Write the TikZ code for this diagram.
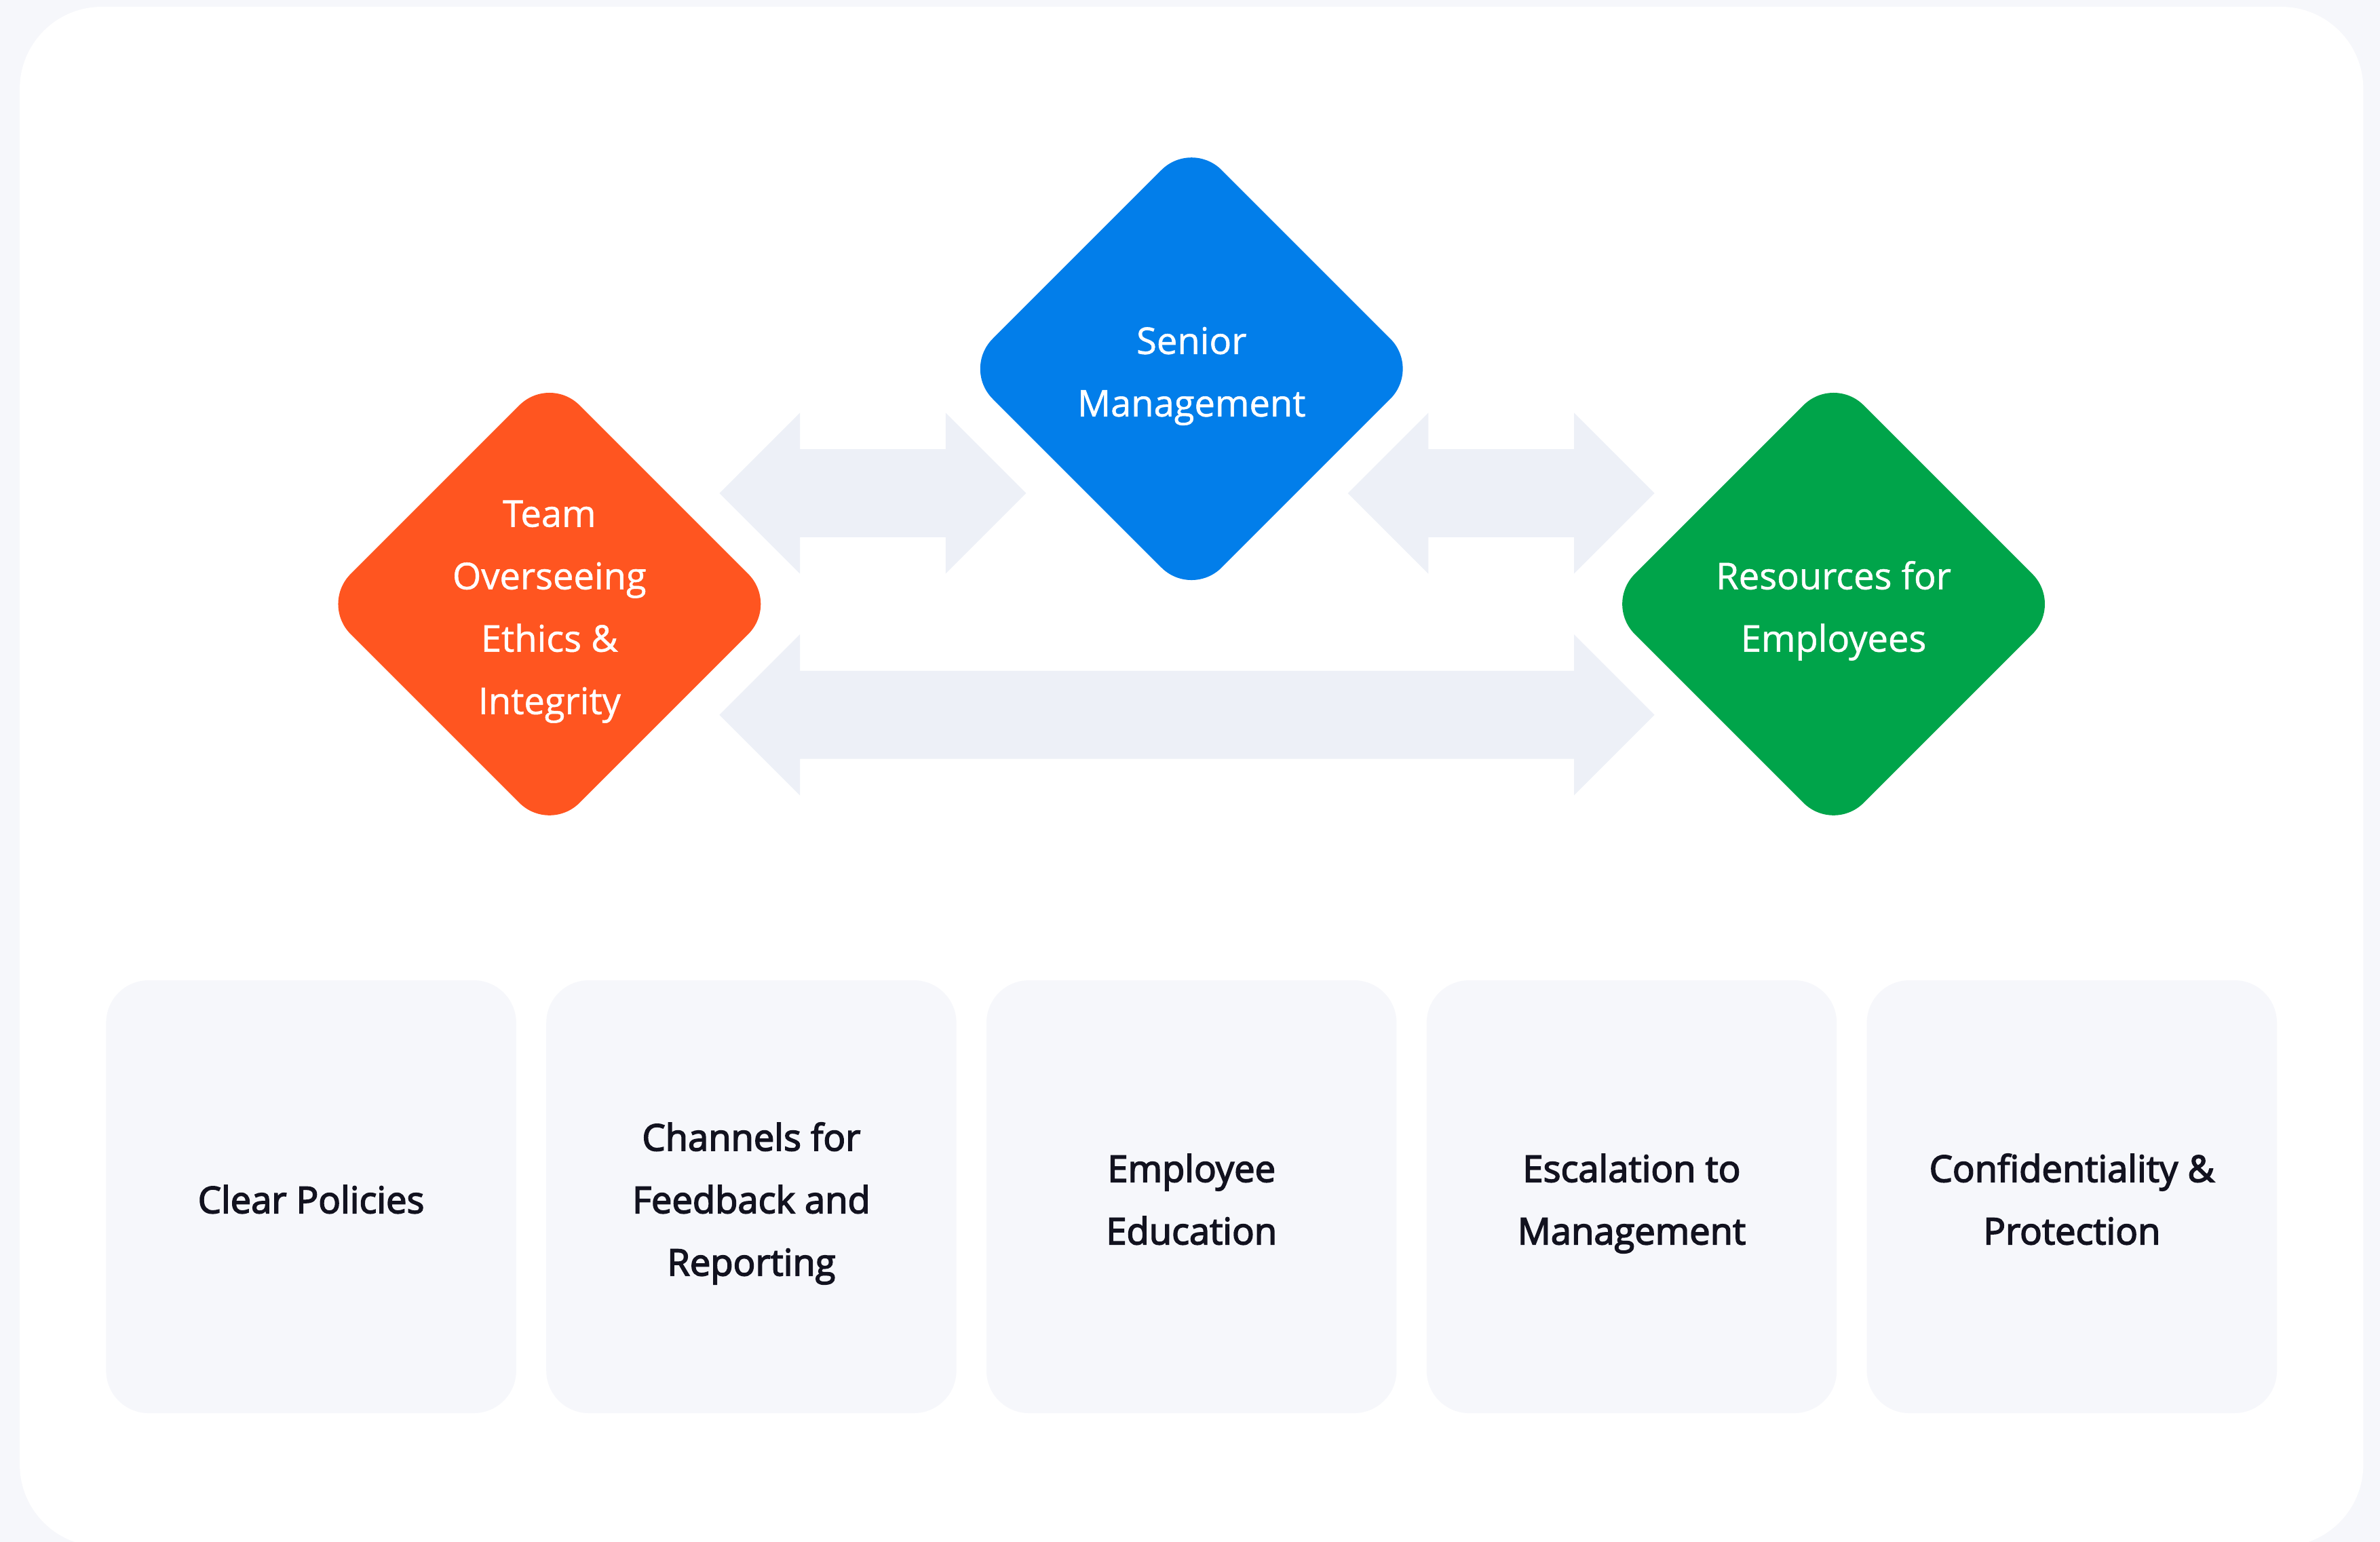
\documentclass[tikz,border=0pt]{standalone}
\usepackage{fontspec}
\setmainfont{Open Sans}
\newfontfamily\pillarfont{Open Sans}[FakeBold=1]
\newfontfamily\cardfont{Open Sans}[FakeBold=3]
\usetikzlibrary{shapes.geometric}
\definecolor{pagebg}{HTML}{F6F7FB}
\definecolor{cardfill}{HTML}{F6F7FB}
\definecolor{flowfill}{HTML}{EDF0F7}
\definecolor{ethicsorange}{HTML}{FF5520}
\definecolor{seniorblue}{HTML}{027EEA}
\definecolor{resgreen}{HTML}{00A44A}
\definecolor{cardtext}{HTML}{12121F}
\newcommand{\ls}{\rule[-0.07cm]{0pt}{0.356cm}}
\tikzstyle{lines}=[align=center, execute at end node=\ls]
\tikzstyle{pillar}=[lines, diamond, inner sep=0pt, minimum width=3.02cm, minimum height=3.02cm, rounded corners=0.28cm, text=white, font=\pillarfont\fontsize{6.9}{11.7}\selectfont]
\tikzstyle{card}=[lines, rectangle, fill=cardfill, rounded corners=0.28cm, minimum width=2.7cm, minimum height=2.85cm, text=cardtext, font=\cardfont\fontsize{6.9}{11.7}\selectfont]
\tikzstyle{flow}=[fill=flowfill]
\newcommand{\twoway}[2]{\fill[flow] (#1) -- ++(53,-53) -- ++(0,24) -- ([shift={(-53,-29)}]#2) -- ++(0,-24) -- (#2) -- ++(-53,53) -- ++(0,-24) -- ([shift={(53,29)}]#1) -- ++(0,24) -- cycle;}

\begin{document}
\begin{tikzpicture}[x=0.01cm, y=-0.01cm]
        \fill[pagebg] (0,0) rectangle (1568,1016);
        \useasboundingbox (0,0) rectangle (1568,1016);
        \fill[white, rounded corners=0.54cm] (13,4.5) rectangle (1557,1019);
        \coordinate (TSl) at (474,325);
        \coordinate (TSr) at (676,325);
        \coordinate (SRl) at (888,325);
        \coordinate (SRr) at (1090,325);
        \coordinate (TRl) at (474,471);
        \coordinate (TRr) at (1090,471);
        \twoway{TSl}{TSr}
        \twoway{SRl}{SRr}
        \twoway{TRl}{TRr}
        \node[pillar, fill=ethicsorange] (team) at (362,398) {\ls Team\\Overseeing\\Ethics \&\\Integrity};
        \node[pillar, fill=seniorblue] (senior) at (785,243) {\ls Senior\\Management};
        \node[pillar, fill=resgreen] (resources) at (1208,398) {\ls Resources for\\Employees};
        \node[card] (policies) at (205,788.5) {\ls Clear Policies};
        \node[card] (channels) at (495,788.5) {\ls Channels for\\Feedback and\\Reporting};
        \node[card] (education) at (785,788.5) {\ls Employee\\Education};
        \node[card] (escalation) at (1075,788.5) {\ls Escalation to\\Management};
        \node[card] (protection) at (1365,788.5) {\ls Confidentiality \&\\Protection};
    \end{tikzpicture}
\end{document}
